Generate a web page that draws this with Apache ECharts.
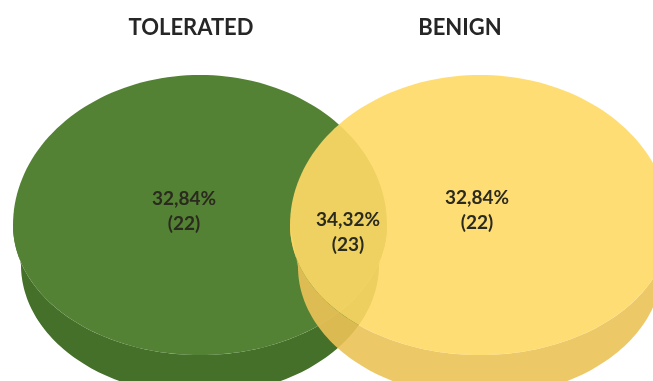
<!DOCTYPE html>
<html>
<head>
<meta charset="utf-8">
<script src="https://cdn.jsdelivr.net/npm/echarts@6/dist/echarts.min.js"></script>
<style>
  html, body { margin: 0; padding: 0; background: #ffffff; }
  #chart { width: 653px; height: 381px; }
</style>
</head>
<body>
<div id="chart"></div>
<script>
// ---- data ----
const setNames = ['TOLERATED', 'BENIGN'];
const regionNames = ['TOLERATED only', 'TOLERATED \u2229 BENIGN', 'BENIGN only'];
const regionPercent = [32.84, 34.32, 32.84];
const regionCount = [22, 23, 22];

// ---- layout (pixel space of the 653x381 canvas) ----
const setLayout = [
  { cx: 200, cy: 225, rx: 187, ryTop: 150, ryBot: 130, depth: 40, shrink: 8, titleX: 191, titleY: 28,
    face: '#548235', side: '#45702A', opacity: 1 },
  { cx: 480, cy: 225, rx: 190, ryTop: 150, ryBot: 130, depth: 42, shrink: 8, titleX: 460, titleY: 28,
    face: '#FFD966', side: '#EBC257', opacity: 0.9 }
];
const regionLayout = [
  { x: 184, y: 211 },
  { x: 348, y: 232 },
  { x: 477, y: 210 }
];

const FONT = 'Lato, "Open Sans", "Liberation Sans", sans-serif';

function eggPoint(L, t, dy, drx) {
  const s = Math.sin(t);
  const ry = s < 0 ? L.ryTop : L.ryBot;
  return [L.cx + (L.rx - (drx || 0)) * Math.cos(t), L.cy + (dy || 0) + ry * s];
}

function renderSet(params, api) {
  const idx = api.value(0);
  const L = setLayout[idx];
  const N = 180;
  const face = [];
  for (let k = 0; k < N; k++) {
    const t = (k / N) * Math.PI * 2;
    face.push(api.coord(eggPoint(L, t, 0, 0)));
  }
  // side band: lower arc of the shifted rim (right->left), then lower arc of the face (left->right)
  const band = [];
  const M = 120;
  for (let k = 0; k <= M; k++) {
    const t = (k / M) * Math.PI;
    band.push(api.coord(eggPoint(L, t, L.depth, L.shrink)));
  }
  for (let k = M; k >= 0; k--) {
    const t = (k / M) * Math.PI;
    band.push(api.coord(eggPoint(L, t, 0, 0)));
  }
  const tp = api.coord([L.titleX, L.titleY]);
  return {
    type: 'group',
    children: [
      { type: 'polygon', shape: { points: band }, style: { fill: L.side, opacity: L.opacity } },
      { type: 'polygon', shape: { points: face }, style: { fill: L.face, opacity: L.opacity } },
      { type: 'text', x: tp[0], y: tp[1], style: {
          text: setNames[idx], fill: '#262626', fontSize: 22, fontWeight: 'bold',
          fontFamily: FONT, align: 'center', verticalAlign: 'middle' } }
    ]
  };
}

function fmt(p) { return p.toFixed(2).replace('.', ',') + '%'; }

function renderRegion(params, api) {
  const idx = api.value(0);
  const R = regionLayout[idx];
  const p = api.coord([R.x, R.y]);
  return {
    type: 'text', x: p[0], y: p[1],
    style: {
      text: fmt(regionPercent[idx]) + '\n(' + regionCount[idx] + ')',
      fill: '#2a2a1e', fontSize: 19, fontWeight: 'bold', fontFamily: FONT,
      align: 'center', verticalAlign: 'middle', lineHeight: 25
    }
  };
}

const chart = echarts.init(document.getElementById('chart'), null, { renderer: 'canvas' });
chart.setOption({
  backgroundColor: '#ffffff',
  animation: false,
  grid: { left: 0, right: 0, top: 0, bottom: 0 },
  xAxis: { type: 'value', min: 0, max: 653, show: false },
  yAxis: { type: 'value', min: 0, max: 381, inverse: true, show: false },
  series: [
    {
      type: 'custom', name: 'sets', renderItem: renderSet, clip: true,
      data: setNames.map((n, i) => ({ name: n, value: [i] })),
      silent: true
    },
    {
      type: 'custom', name: 'regions', renderItem: renderRegion,
      data: regionNames.map((n, i) => ({ name: n, value: [i, regionPercent[i], regionCount[i]] })),
      silent: true, z: 5
    }
  ]
});
</script>
</body>
</html>
